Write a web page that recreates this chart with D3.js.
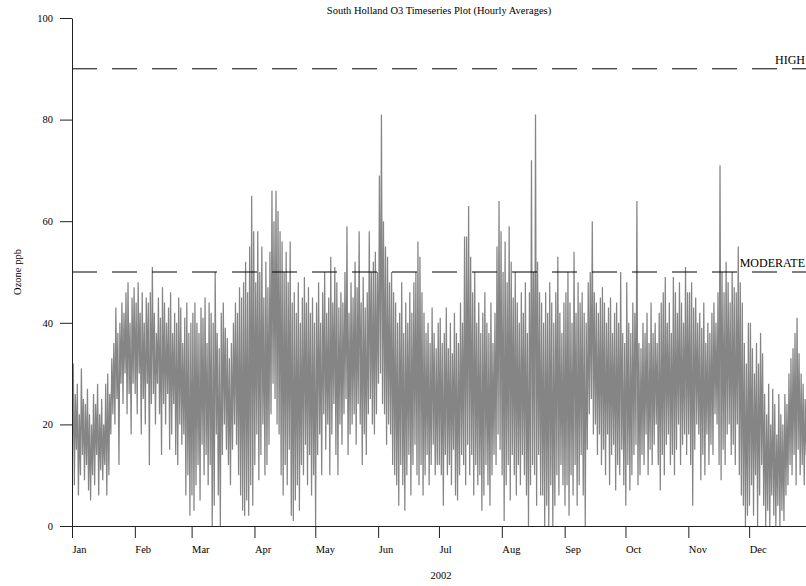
<!DOCTYPE html>
<html>
<head>
<meta charset="utf-8">
<script src="https://cdnjs.cloudflare.com/ajax/libs/d3/7.8.5/d3.min.js"></script>
<style>
  body { margin: 0; background: #fff; }
  text { font-family: "Liberation Serif", "Times New Roman", serif; }
</style>
</head>
<body>
<div class="chartDiv"></div>
<script>
// South Holland O3, 2002 - daily high / low of the hourly averages (ppb)

let dailyHigh = [
  // Jan
  32, 26, 28, 22, 31, 25, 24, 27, 22, 20, 26, 24, 28, 22, 25, 20, 28, 30, 26, 33, 36, 43, 38, 40, 44, 42, 46, 48, 40, 45, 47,
  // Feb
  44, 48, 42, 46, 40, 45, 44, 46, 51, 42, 38, 45, 41, 47, 44, 40, 43, 46, 38, 42, 40, 45, 43, 36, 41, 44, 38, 40,
  // Mar
  42, 44, 40, 38, 43, 41, 45, 36, 44, 42, 40, 50, 38, 35, 42, 44, 39, 37, 33, 36, 40, 44, 42, 47, 45, 48, 52, 46, 55, 65, 58,
  // Apr
  48, 58, 50, 55, 45, 52, 47, 54, 66, 60, 66, 62, 58, 56, 50, 54, 48, 56, 44, 46, 42, 48, 40, 45, 49, 44, 47, 42, 45, 40,
  // May
  44, 48, 40, 46, 50, 42, 45, 53, 44, 51, 48, 43, 46, 44, 50, 59, 42, 48, 45, 52, 47, 58, 44, 49, 43, 46, 58, 50, 52, 54, 50,
  // Jun
  69, 81, 60, 55, 53, 48, 50, 46, 44, 40, 42, 48, 38, 44, 40, 46, 42, 48, 50, 56, 53, 46, 42, 38, 40, 36, 43, 38, 35, 40,
  // Jul
  41, 36, 38, 43, 35, 40, 34, 42, 38, 36, 44, 40, 57, 57, 63, 53, 46, 50, 40, 44, 38, 42, 46, 40, 38, 44, 36, 42, 55, 64, 58,
  // Aug
  50, 56, 48, 59, 52, 45, 50, 44, 40, 46, 42, 48, 38, 46, 72, 50, 81, 52, 46, 44, 40, 46, 42, 48, 44, 40, 46, 53, 42, 38, 44,
  // Sep
  46, 50, 44, 40, 54, 42, 48, 44, 46, 42, 40, 48, 50, 60, 46, 44, 42, 45, 47, 44, 40, 43, 45, 38, 42, 44, 40, 50, 38, 36,
  // Oct
  48, 40, 38, 44, 42, 64, 36, 35, 40, 38, 42, 36, 44, 38, 40, 36, 42, 44, 46, 49, 40, 44, 38, 49, 46, 42, 48, 44, 40, 51, 46,
  // Nov
  46, 48, 43, 45, 40, 42, 39, 44, 36, 40, 38, 42, 44, 40, 46, 71, 50, 46, 52, 48, 44, 50, 47, 46, 55, 48, 44, 36, 32, 40,
  // Dec
  40, 35, 30, 36, 32, 38, 34, 26, 22, 28, 20, 27, 24, 18, 26, 22, 20, 26, 24, 30, 33, 35, 38, 41, 34, 30, 28, 25, 24, 22, 20
];

let dailyLow = [
  // Jan
  12, 8, 15, 6, 10, 14, 9, 12, 7, 5, 10, 8, 14, 6, 11, 9, 12, 6, 10, 18, 22, 20, 25, 12, 28, 24, 30, 22, 26, 18, 28,
  // Feb
  26, 22, 30, 18, 25, 20, 28, 12, 24, 26, 20, 28, 22, 14, 24, 20, 26, 15, 18, 24, 14, 12, 20, 16, 18, 6, 10, 2,
  // Mar
  6, 3, 8, 12, 5, 16, 10, 14, 8, 12, 0, 4, 18, 6, 0, 14, 20, 15, 12, 8, 15, 20, 16, 10, 6, 3, 2, 5, 2, 8, 4,
  // Apr
  12, 18, 9, 14, 20, 10, 12, 16, 22, 28, 25, 20, 18, 10, 6, 12, 8, 15, 2, 1, 5, 8, 3, 12, 10, 16, 8, 14, 6, 10,
  // May
  0, 14, 18, 10, 22, 15, 20, 10, 18, 24, 14, 10, 20, 16, 22, 25, 14, 18, 20, 22, 16, 24, 20, 12, 18, 14, 22, 25, 20, 18, 22,
  // Jun
  28, 30, 24, 22, 16, 20, 18, 12, 10, 8, 4, 12, 8, 3, 10, 14, 6, 12, 16, 10, 8, 12, 6, 10, 14, 8, 12, 16, 10, 12,
  // Jul
  12, 10, 4, 14, 10, 12, 8, 15, 6, 5, 10, 14, 12, 8, 16, 10, 14, 6, 12, 8, 10, 3, 6, 12, 8, 4, 10, 14, 12, 18, 15,
  // Aug
  10, 1, 8, 12, 5, 14, 10, 6, 12, 8, 14, 10, 6, 0, 8, 12, 10, 4, 14, 6, 6, 0, 4, 0, 8, 0, 4, 10, 6, 12, 8,
  // Sep
  4, 8, 2, 10, 6, 12, 4, 8, 14, 6, 0, 15, 22, 25, 18, 20, 14, 18, 12, 15, 10, 18, 8, 14, 16, 7, 12, 10, 15, 8,
  // Oct
  4, 12, 7, 10, 14, 16, 8, 10, 14, 12, 18, 10, 15, 12, 16, 20, 12, 7, 14, 10, 16, 18, 12, 14, 10, 15, 20, 12, 16, 18, 14,
  // Nov
  18, 12, 4, 15, 20, 18, 9, 14, 10, 18, 12, 16, 14, 22, 20, 12, 9, 15, 12, 18, 20, 14, 16, 12, 20, 10, 6, 4, 0, 2,
  // Dec
  4, 8, 2, 10, 0, 6, 12, 4, 0, 3, 0, 6, 2, 0, 4, 0, 3, 1, 6, 8, 12, 10, 14, 8, 15, 10, 12, 8, 14, 12, 10
];

let monthLabels = ['Jan', 'Feb', 'Mar', 'Apr', 'May', 'Jun', 'Jul', 'Aug', 'Sep', 'Oct', 'Nov', 'Dec'];
let yTicks = [0, 20, 40, 60, 80, 100];
let levelNames = ['HIGH', 'MODERATE'];
let levelValues = [90, 50];

let svgWidth = 806;
let svgHeight = 586;

let margin = {
    top: 18,
    bottom: 60,
    left: 72,
    right: -6   // the year runs a few pixels past the window edge
};

let graphWidth = svgWidth - margin.left - margin.right;
let graphHeight = svgHeight - margin.top - margin.bottom;

// each day: low in the early morning, high in the afternoon
let series = [];
dailyHigh.forEach((hi, i) => {
  series.push({ date: new Date(2002, 0, 1 + i, 4), value: dailyLow[i] });
  series.push({ date: new Date(2002, 0, 1 + i, 15), value: hi });
});

let svg = d3.select('.chartDiv')
            .append('svg')
            .attr('width', svgWidth)
            .attr('height', svgHeight);

let chartGroup = svg.append('g')
                    .attr('transform', `translate(${margin.left}, ${margin.top})`);

let xScale = d3.scaleTime()
               .domain([new Date(2002, 0, 1), new Date(2003, 0, 1)])
               .range([0, graphWidth]);

let yScale = d3.scaleLinear()
               .domain([0, 100])
               .range([graphHeight, 0]);

svg.append('defs')
   .append('clipPath')
   .attr('id', 'plotClip')
   .append('rect')
   .attr('x', 0)
   .attr('y', -margin.top)
   .attr('width', svgWidth - margin.left)
   .attr('height', graphHeight + margin.top);

// the ozone trace
let ozoneLine = d3.line()
                  .x(d => xScale(d.date))
                  .y(d => yScale(d.value));

chartGroup.append('path')
          .datum(series)
          .attr('clip-path', 'url(#plotClip)')
          .attr('fill', 'none')
          .attr('stroke', '#858585')
          .attr('stroke-width', 1.25)
          .attr('stroke-linejoin', 'miter')
          .attr('d', ozoneLine);

// threshold lines
levelValues.forEach((v, i) => {
  chartGroup.append('line')
            .attr('x1', 0)
            .attr('x2', svgWidth - margin.left)
            .attr('y1', yScale(v))
            .attr('y2', yScale(v))
            .attr('stroke', '#000')
            .attr('stroke-width', 1)
            .attr('stroke-dasharray', '25,15');

  chartGroup.append('text')
            .attr('x', svgWidth - margin.left - 1)
            .attr('y', yScale(v) - 5)
            .attr('text-anchor', 'end')
            .attr('font-size', '12px')
            .attr('fill', '#000')
            .text(levelNames[i]);
});

// axes
let monthDates = monthLabels.map((m, i) => new Date(2002, i, 1));

let bottomAxis = d3.axisBottom(xScale)
                   .tickValues(monthDates)
                   .tickFormat((d, i) => monthLabels[i])
                   .tickSize(12)
                   .tickSizeOuter(0)
                   .tickPadding(8);

let leftAxis = d3.axisLeft(yScale)
                 .tickValues(yTicks)
                 .tickSize(12)
                 .tickSizeOuter(0)
                 .tickPadding(7);

let xAxisGroup = chartGroup.append('g')
                           .attr('transform', `translate(0, ${graphHeight})`)
                           .call(bottomAxis);

xAxisGroup.selectAll('text')
          .attr('text-anchor', 'start')
          .attr('font-size', '10.5px')
          .attr('font-family', '"Liberation Serif", "Times New Roman", serif')
          .attr('fill', '#000');

let yAxisGroup = chartGroup.append('g')
                           .call(leftAxis);

yAxisGroup.selectAll('text')
          .attr('font-size', '10.5px')
          .attr('font-family', '"Liberation Serif", "Times New Roman", serif')
          .attr('fill', '#000');

chartGroup.selectAll('.domain, .tick line')
          .attr('stroke', '#222');

// titles
svg.append('text')
   .attr('x', 439)
   .attr('y', 14)
   .attr('text-anchor', 'middle')
   .attr('font-size', '10.5px')
   .text('South Holland O3 Timeseries Plot (Hourly Averages)');

svg.append('text')
   .attr('x', 441)
   .attr('y', 579)
   .attr('text-anchor', 'middle')
   .attr('font-size', '10.5px')
   .text('2002');

svg.append('text')
   .attr('transform', `translate(21, ${margin.top + graphHeight / 2}) rotate(-90)`)
   .attr('text-anchor', 'middle')
   .attr('font-size', '10.5px')
   .text('Ozone ppb');
</script>
</body>
</html>
